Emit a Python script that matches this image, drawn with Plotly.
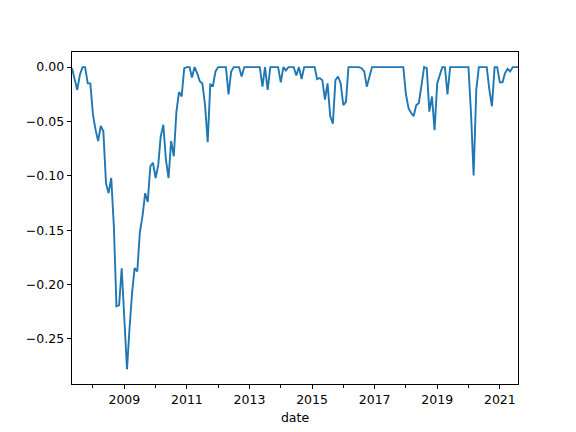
import pandas as pd
import plotly.graph_objects as go

# monthly drawdown, May 2007 - Aug 2021
dates = pd.date_range("2007-05-01", periods=172, freq="MS")

drawdown = [
    -0.001, -0.012, -0.021, -0.007, 0.0, 0.0, -0.015, -0.015, -0.044, -0.058,
    -0.068, -0.054, -0.059, -0.107, -0.116, -0.102, -0.147, -0.220, -0.219, -0.185,
    -0.229, -0.278, -0.242, -0.208, -0.185, -0.188, -0.152, -0.137, -0.116, -0.124,
    -0.091, -0.088, -0.102, -0.090, -0.064, -0.053, -0.085, -0.102, -0.068, -0.082,
    -0.041, -0.023, -0.027, -0.001, 0.0, 0.0, -0.0095, 0.0, -0.0055, -0.013,
    -0.015, -0.035, -0.069, -0.016, -0.017, -0.004, 0.0, 0.0, 0.0, 0.0,
    -0.025, -0.004, 0.0, 0.0, 0.0, -0.0086, 0.0, 0.0, 0.0, 0.0,
    0.0, 0.0, 0.0, -0.018, 0.0, -0.021, 0.0, 0.0, 0.0, 0.0,
    -0.014, 0.0, -0.003, 0.0, 0.0, 0.0, -0.0077, 0.0, -0.011, 0.0,
    0.0, 0.0, 0.0, 0.0, -0.011, -0.010, -0.012, -0.030, -0.015, -0.045,
    -0.052, -0.012, -0.0086, -0.015, -0.035, -0.032, 0.0, 0.0, 0.0, 0.0,
    0.0, -0.001, -0.004, -0.018, -0.009, 0.0, 0.0, 0.0, 0.0, 0.0,
    0.0, 0.0, 0.0, 0.0, 0.0, 0.0, 0.0, 0.0, -0.025, -0.038,
    -0.042, -0.045, -0.035, -0.033, -0.017, 0.0, -0.001, -0.041, -0.027, -0.058,
    -0.015, -0.006, 0.0, 0.0, -0.025, 0.0, 0.0, 0.0, 0.0, 0.0,
    0.0, 0.0, 0.0, -0.045, -0.0997, -0.021, 0.0, 0.0, 0.0, 0.0,
    -0.021, -0.036, 0.0, 0.0, -0.014, -0.014, -0.006, -0.0015, -0.004, 0.0,
    0.0, 0.0,
]

y_ticks = [0.0, -0.05, -0.10, -0.15, -0.20, -0.25]
y_labels = ["0.00", "\u22120.05", "\u22120.10", "\u22120.15", "\u22120.20", "\u22120.25"]

fig = go.Figure()
fig.add_trace(go.Scatter(x=dates, y=drawdown, mode="lines",
                         line=dict(color="#1f77b4", width=1.9)))

font = dict(family="DejaVu Sans", size=12.5, color="black")

axis_style = dict(showline=True, linecolor="black", linewidth=1, mirror=True,
                  showgrid=False, zeroline=False, ticks="outside", ticklen=4.4,
                  tickwidth=1, tickcolor="black", tickfont=font)

fig.update_xaxes(range=[dates[0], dates[-1]], dtick="M24", tick0="2009-01-01",
                 tickformat="%Y",
                 minor=dict(dtick="M24", tick0="2008-01-01", ticks="outside",
                            ticklen=2.5, tickcolor="black", showgrid=False),
                 title=dict(text="date", standoff=6, font=font),
                 **axis_style)
fig.update_yaxes(range=[-0.2915, 0.0139], tickvals=y_ticks, ticktext=y_labels,
                 **axis_style)

# the page body adds 8px, so margins are pulled in by that much
fig.update_layout(width=576, height=432, showlegend=False,
                  plot_bgcolor="white", paper_bgcolor="white",
                  margin=dict(l=64, r=66, t=44, b=56))

fig.write_html("out.html")
